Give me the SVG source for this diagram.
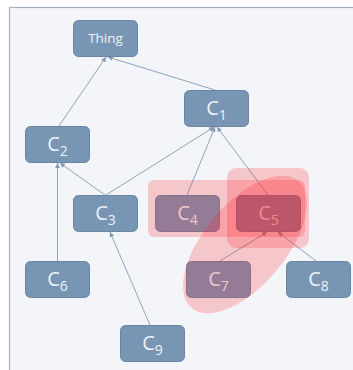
<svg xmlns="http://www.w3.org/2000/svg" width="353" height="370" viewBox="0 0 353 370">
<style>
.node rect{fill:#7896b4;stroke:#6a86a4;stroke-width:1}
.node text{font-family:"Open Sans","Liberation Sans",sans-serif;fill:#eef2f7;text-anchor:middle}
.lbl{font-size:20px}
.sub{font-size:14px}
.thing{font-size:13.5px}
.edges line{stroke:#8ba5c0;stroke-width:1;marker-end:url(#arr)}
.hl{fill:#ff1e28;fill-opacity:0.21}
</style>
<defs>
<marker id="arr" viewBox="0 0 10 10" refX="10" refY="5" markerWidth="5" markerHeight="5" orient="auto" markerUnits="userSpaceOnUse">
<path d="M0,0 L10,5 L0,10 z" fill="#7f9bb8"/>
</marker>
</defs>
<rect x="9.5" y="7.5" width="360" height="380" fill="#f3f5f8" stroke="#a6b3c2" stroke-width="1.2"/>
<g id="connectors" class="edges">
<line x1="59" y1="126" x2="106" y2="57"/>
<line x1="215" y1="90" x2="108" y2="57"/>
<line x1="105" y1="195" x2="60" y2="163"/>
<line x1="106" y1="195" x2="214" y2="127"/>
<line x1="187" y1="195" x2="215" y2="127"/>
<line x1="268" y1="195" x2="217" y2="127"/>
<line x1="57.5" y1="261" x2="57.5" y2="163"/>
<line x1="150" y1="325" x2="110" y2="232"/>
<line x1="220" y1="261" x2="267" y2="232"/>
<line x1="316" y1="261" x2="278" y2="232"/>
</g>
<g id="thing" class="node"><rect x="73.5" y="20.5" width="64" height="36" rx="5"/><text class="thing" x="105.5" y="43">Thing</text></g>
<g id="c1" class="node"><rect x="184.5" y="90.5" width="64" height="36" rx="5"/><text class="lbl" x="216.5" y="115">C<tspan class="sub" dy="5">1</tspan></text></g>
<g id="c2" class="node"><rect x="25.5" y="126.5" width="64" height="36" rx="5"/><text class="lbl" x="57.5" y="151">C<tspan class="sub" dy="5">2</tspan></text></g>
<g id="c3" class="node"><rect x="73.5" y="195.5" width="64" height="36" rx="5"/><text class="lbl" x="105.5" y="220">C<tspan class="sub" dy="5">3</tspan></text></g>
<g id="c4" class="node"><rect x="155.5" y="195.5" width="64" height="36" rx="5"/><text class="lbl" x="187.5" y="220">C<tspan class="sub" dy="5">4</tspan></text></g>
<g id="c5" class="node"><rect x="236.5" y="195.5" width="64" height="36" rx="5"/><text class="lbl" x="268.5" y="220">C<tspan class="sub" dy="5">5</tspan></text></g>
<g id="c6" class="node"><rect x="25.5" y="261.5" width="64" height="36" rx="5"/><text class="lbl" x="57.5" y="286">C<tspan class="sub" dy="5">6</tspan></text></g>
<g id="c7" class="node"><rect x="186.5" y="261.5" width="64" height="36" rx="5"/><text class="lbl" x="218.5" y="286">C<tspan class="sub" dy="5">7</tspan></text></g>
<g id="c8" class="node"><rect x="286.5" y="261.5" width="64" height="36" rx="5"/><text class="lbl" x="318.5" y="286">C<tspan class="sub" dy="5">8</tspan></text></g>
<g id="c9" class="node"><rect x="120.5" y="325.5" width="64" height="36" rx="5"/><text class="lbl" x="152.5" y="350">C<tspan class="sub" dy="5">9</tspan></text></g>
<g id="highlights">
<rect class="hl" x="148" y="180" width="157" height="57" rx="6"/>
<rect class="hl" x="227" y="168" width="82" height="80" rx="9"/>
<ellipse class="hl" cx="245" cy="244.5" rx="83" ry="41" transform="rotate(-50 245 244.5)"/>
</g>
</svg>
